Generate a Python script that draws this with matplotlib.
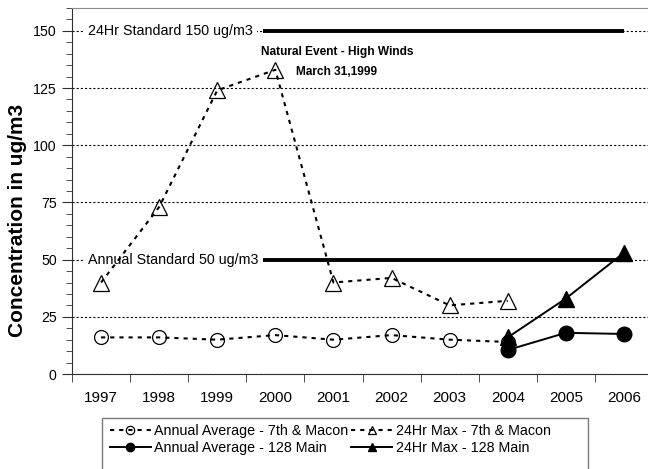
import matplotlib
matplotlib.use("Agg")
import matplotlib.pyplot as plt
from matplotlib.ticker import MultipleLocator, FixedLocator
from matplotlib.patches import Rectangle

plt.rcParams['lines.scale_dashes'] = False

years = ['1997', '1998', '1999', '2000', '2001', '2002', '2003', '2004', '2005', '2006']
x_macon = [0, 1, 2, 3, 4, 5, 6, 7]
annual_avg_macon = [16, 16, 15, 17, 15, 17, 15, 14]
max24_macon = [40, 73, 124, 133, 40, 42, 30, 32]
x_main = [7, 8, 9]
annual_avg_main = [10.5, 18, 17.5]
max24_main = [16, 33, 53]

std24_value = 150
std24_label = '24Hr Standard 150 ug/m3'
std_annual_value = 50
std_annual_label = 'Annual Standard 50 ug/m3'
std_line_x = [2.78, 9.0]

FAM = ['Liberation Sans', 'DejaVu Sans']

W, H = 648, 469
fig = plt.figure(figsize=(W / 100, H / 100), dpi=100)
ax = fig.add_axes([72 / W, (H - 374) / H, 581 / W, 366 / H])

ax.set_xlim(-0.5, 9.5)
ax.set_ylim(0, 160)

# grid
ax.yaxis.set_major_locator(MultipleLocator(25))
ax.yaxis.set_minor_locator(MultipleLocator(5))
ax.grid(axis='y', which='major', color='black', lw=0.8, linestyle=(0, (1.5, 1.5)), zorder=0)
ax.set_axisbelow(True)

dot = (0, (3.0, 3.6))
l1, = ax.plot(x_macon, annual_avg_macon, color='black', lw=1.5, linestyle=dot,
              marker='o', ms=10, mfc='none', mec='black', mew=0.9, zorder=3,
              label='Annual Average - 7th & Macon')
l2, = ax.plot(x_macon, max24_macon, color='black', lw=1.5, linestyle=dot,
              marker='^', ms=12, mfc='none', mec='black', mew=0.9, zorder=3,
              label='24Hr Max - 7th & Macon')
l3, = ax.plot(x_main, annual_avg_main, color='black', lw=1.4, linestyle='-',
              marker='o', ms=10.5, mfc='black', mec='black', zorder=4,
              label='Annual Average - 128 Main')
l4, = ax.plot(x_main, max24_main, color='black', lw=1.4, linestyle='-',
              marker='^', ms=11.5, mfc='black', mec='black', zorder=4,
              label='24Hr Max - 128 Main')

# standards
for val, lab in [(std24_value, std24_label), (std_annual_value, std_annual_label)]:
    ax.text(-0.22, val, lab, ha='left', va='center', fontsize=10.3, family=FAM,
            bbox=dict(facecolor='white', edgecolor='none', pad=2.5), zorder=2)
ax.plot(std_line_x, [std24_value, std24_value], color='black', lw=2.8, solid_capstyle='butt', zorder=3)
ax.plot(std_line_x, [std_annual_value, std_annual_value], color='black', lw=2.8, solid_capstyle='butt', zorder=3)

ax.text(2.75, 140.8, 'Natural Event - High Winds', ha='left', va='center',
        fontsize=8.6, fontweight='bold', family=FAM, zorder=5)
ax.text(3.36, 132, 'March 31,1999', ha='left', va='center',
        fontsize=8.6, fontweight='bold', family=FAM, zorder=5)

# spines
ax.spines['right'].set_visible(False)
ax.spines['top'].set_color('#8a8a8a')
ax.spines['left'].set_color('#303030')
ax.spines['bottom'].set_color('#303030')

# ticks
ax.xaxis.set_major_locator(FixedLocator(range(len(years))))
ax.set_xticklabels(years)
ax.xaxis.set_minor_locator(FixedLocator([i - 0.5 for i in range(len(years) + 1)]))
ax.tick_params(axis='x', which='major', length=0, pad=12)
ax.tick_params(axis='x', which='minor', length=6, direction='out', color='#303030')
ax.tick_params(axis='y', which='major', length=7, direction='out', pad=4, color='#303030')
ax.tick_params(axis='y', which='minor', length=4, direction='out', color='#303030')
for t in ax.get_xticklabels():
    t.set_fontfamily(FAM)
    t.set_fontsize(11)
for t in ax.get_yticklabels():
    t.set_fontfamily(FAM)
    t.set_fontsize(10.2)

fig.text(18 / W, 1 - 220 / H, 'Concentration in ug/m3', rotation=90, ha='center', va='center',
         fontsize=15, fontweight='bold', family=FAM)

leg = fig.legend(handles=[l1, l3, l2, l4], ncol=2, loc='upper left',
                 bbox_to_anchor=(110 / W, 1 - 424 / H), frameon=False, borderpad=0,
                 prop={'family': FAM, 'size': 10.3}, handlelength=2.85, handletextpad=0.25,
                 columnspacing=0.2, labelspacing=0.2, numpoints=1, borderaxespad=0)
for h in leg.legend_handles:
    h.set_markersize(6)

fig.add_artist(Rectangle((102 / W, -0.02), 486 / W, (H - 418) / H + 0.02, transform=fig.transFigure,
                         fill=False, edgecolor='#7a7a7a', lw=1, clip_on=False))

fig.savefig('out.png', dpi=100)
